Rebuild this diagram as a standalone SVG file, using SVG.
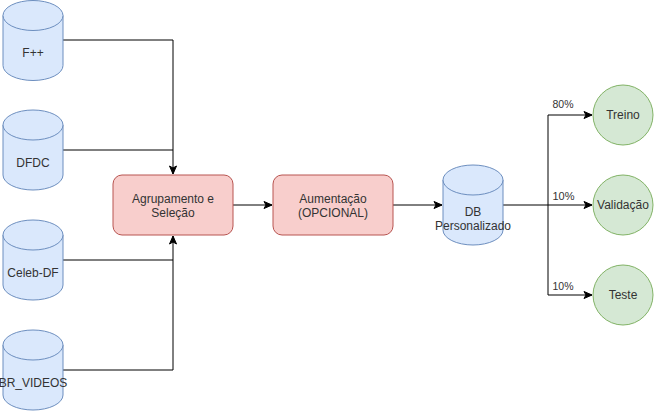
<svg xmlns="http://www.w3.org/2000/svg" width="655" height="412" viewBox="0 0 655 412">
<style>
.cyl{fill:#dae8fc;stroke:#6c8ebf;stroke-width:1}
.box{fill:#f8cecc;stroke:#b85450;stroke-width:1}
.circ{fill:#d5e8d4;stroke:#82b366;stroke-width:1}
.lbl{font-family:"Liberation Sans",Arial,sans-serif;font-size:12px;fill:#333333;text-anchor:middle}
.elbl{font-family:"Liberation Sans",Arial,sans-serif;font-size:10.5px;fill:#333333;text-anchor:middle}
.edge{fill:none;stroke:#000000;stroke-width:1}
</style>
<defs>
<marker id="arr" markerUnits="userSpaceOnUse" markerWidth="10" markerHeight="10" refX="9" refY="5" orient="auto">
<path d="M1,1.5 L9,5 L1,8.5 L3,5 Z" fill="#000000" stroke="#000000" stroke-width="1"/>
</marker>
</defs>
<rect width="655" height="412" fill="#ffffff"/>
<g id="connectors">
<path class="edge" d="M63,40 H173 V174" marker-end="url(#arr)"/>
<path class="edge" d="M63,150 H173"/>
<path class="edge" d="M63,260 H173"/>
<path class="edge" d="M63,370 H173 V236" marker-end="url(#arr)"/>
<path class="edge" d="M233,205 H272" marker-end="url(#arr)"/>
<path class="edge" d="M393,205 H442" marker-end="url(#arr)"/>
<path class="edge" d="M503,205 H548 V115 H592" marker-end="url(#arr)"/>
<path class="edge" d="M548,205 H592" marker-end="url(#arr)"/>
<path class="edge" d="M548,205 V295 H592" marker-end="url(#arr)"/>
<text class="elbl" x="563" y="108">80%</text>
<text class="elbl" x="563.5" y="199.5" style="font-size:11px">10%</text>
<text class="elbl" x="563" y="289.5">10%</text>
</g>
<g id="fpp">
<path class="cyl" d="M3,15.5 A30,15 0 0 1 63,15.5 V65.5 A30,15 0 0 1 3,65.5 Z"/>
<path class="cyl" d="M3,15.5 A30,15 0 0 0 63,15.5" fill="none"/>
<text class="lbl" x="33" y="57">F++</text>
</g>
<g id="dfdc">
<path class="cyl" d="M3,125 A30,15 0 0 1 63,125 V175 A30,15 0 0 1 3,175 Z"/>
<path class="cyl" d="M3,125 A30,15 0 0 0 63,125" fill="none"/>
<text class="lbl" x="33" y="167">DFDC</text>
</g>
<g id="celebdf">
<path class="cyl" d="M3,235 A30,15 0 0 1 63,235 V285 A30,15 0 0 1 3,285 Z"/>
<path class="cyl" d="M3,235 A30,15 0 0 0 63,235" fill="none"/>
<text class="lbl" x="33" y="277">Celeb-DF</text>
</g>
<g id="brvideos">
<path class="cyl" d="M3,345 A30,15 0 0 1 63,345 V395 A30,15 0 0 1 3,395 Z"/>
<path class="cyl" d="M3,345 A30,15 0 0 0 63,345" fill="none"/>
<text class="lbl" x="33" y="387">BR_VIDEOS</text>
</g>
<g id="agrupamento">
<rect class="box" x="113" y="175" width="120" height="60" rx="9" ry="9"/>
<text class="lbl" x="173" y="203">Agrupamento e</text>
<text class="lbl" x="173" y="217">Seleção</text>
</g>
<g id="aumentacao">
<rect class="box" x="273" y="175" width="120" height="60" rx="9" ry="9"/>
<text class="lbl" x="333" y="203">Aumentação</text>
<text class="lbl" x="333" y="217">(OPCIONAL)</text>
</g>
<g id="db">
<path class="cyl" d="M443,180 A30,15 0 0 1 503,180 V230 A30,15 0 0 1 443,230 Z"/>
<path class="cyl" d="M443,180 A30,15 0 0 0 503,180" fill="none"/>
<text class="lbl" x="473" y="216">DB</text>
<text class="lbl" x="473" y="230">Personalizado</text>
</g>
<g id="treino">
<circle class="circ" cx="623" cy="115" r="30"/>
<text class="lbl" x="623" y="119">Treino</text>
</g>
<g id="validacao">
<circle class="circ" cx="623" cy="205" r="30"/>
<text class="lbl" x="623" y="209">Validação</text>
</g>
<g id="teste">
<circle class="circ" cx="623" cy="295" r="30"/>
<text class="lbl" x="623" y="299">Teste</text>
</g>
</svg>
